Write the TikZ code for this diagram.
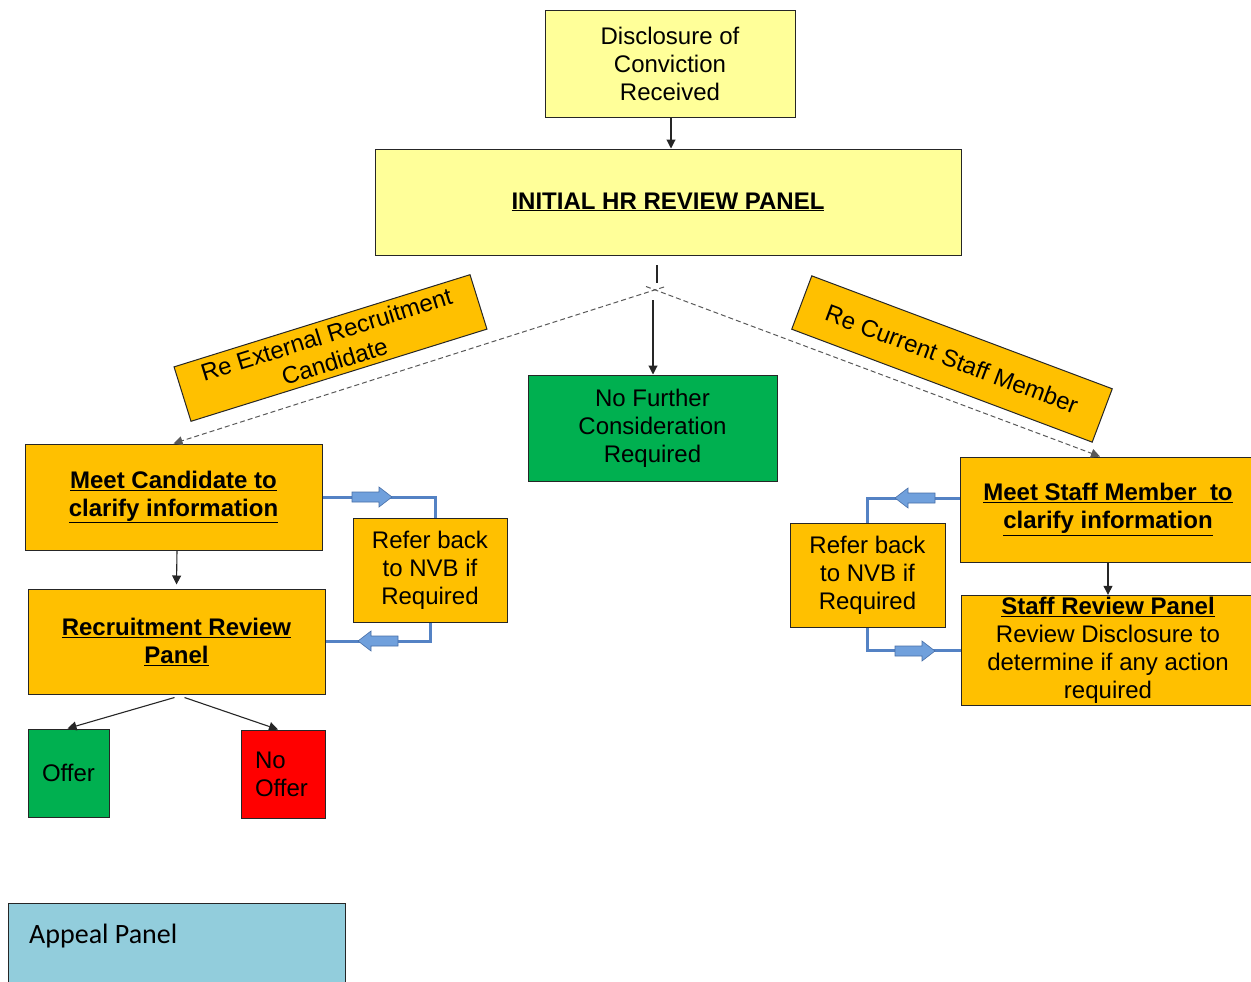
\documentclass[tikz,border=0pt]{standalone}
\usepackage{fontspec}
\setmainfont{Liberation Sans}
\newfontfamily\calib{Carlito}
\usetikzlibrary{arrows.meta}
\definecolor{yel}{RGB}{255,255,153}
\definecolor{org}{RGB}{255,192,0}
\definecolor{grn}{RGB}{0,176,80}
\definecolor{rd}{RGB}{255,0,0}
\definecolor{apb}{RGB}{146,205,220}
\definecolor{bline}{RGB}{84,130,196}
\definecolor{bfill}{RGB}{112,160,220}
\newcommand{\bu}[1]{\underline{\textbf{#1}}}
\begin{document}
\begin{tikzpicture}[x=1pt,y=-1pt,
  bx/.style={draw=black!85, line width=1pt, align=center, inner sep=2pt,
    font=\fontsize{24}{28}\selectfont},
  arr/.style={draw=black!85, line width=1.1pt, -{Triangle[length=9pt,width=9pt]}},
  dsh/.style={draw=black!65, line width=1pt, dash pattern=on 5pt off 3pt},
  bcon/.style={draw=bline, line width=3pt},
  fatarr/.pic={\draw[draw=bline!85!black, fill=bfill, line width=0.6pt]
    (0,0) -- (-13,-10) -- (-13,-5) -- (-40,-5) -- (-40,5) -- (-13,5) -- (-13,10) -- cycle;}
]
\useasboundingbox (0,0) rectangle (1251,982);

% top
\node[bx, fill=yel, minimum width=250, minimum height=106] (disc) at (670,64)
  {Disclosure of\\Conviction\\Received};
\node[bx, fill=yel, minimum width=586, minimum height=106] (hr) at (668,202)
  {\bu{INITIAL HR REVIEW PANEL}};
\node[bx, fill=grn, minimum width=249, minimum height=106] (nfc) at (652.5,428)
  {No Further\\Consideration\\Required};

% rotated labels
\node[bx, fill=org, minimum width=310, minimum height=57, rotate=17.3] (ext) at (330.5,348)
  {Re External Recruitment\\Candidate};
\node[bx, fill=org, minimum width=321, minimum height=57, rotate=-20.6] (cur) at (952,359)
  {Re Current Staff Member};

% left branch
\node[bx, fill=org, minimum width=297, minimum height=106] (mc) at (173.5,497)
  {\bu{Meet Candidate to}\\\bu{clarify information}};
\node[bx, fill=org, minimum width=297, minimum height=105] (rrp) at (176.5,641.5)
  {\bu{Recruitment Review}\\\bu{Panel}};
\node[bx, fill=org, minimum width=154, minimum height=104] (rl) at (430,570)
  {Refer back\\to NVB if\\Required};
\node[bx, fill=grn, minimum width=81, minimum height=88] (offer) at (68.5,773) {Offer};
\node[bx, fill=rd, minimum width=84, minimum height=88, text width=56, inner xsep=14, align=left] (nooffer) at (283,774)
  {No\\Offer};

% right branch
\node[bx, fill=org, minimum width=296, minimum height=105] (ms) at (1108,509.5)
  {\bu{Meet Staff Member\ \ to}\\\bu{clarify information}};
\node[bx, fill=org, minimum width=294, minimum height=107] (srp) at (1108,650.5)
  {\bu{Staff Review Panel}\\Review Disclosure to\\determine if any action\\required};
\node[bx, fill=org, minimum width=155, minimum height=104] (rr) at (867.5,575)
  {Refer back\\to NVB if\\Required};

% appeal
\node[draw=black!85, line width=1pt, fill=apb, minimum width=337, minimum height=100, anchor=north west,
  label={[anchor=north west, xshift=21pt, yshift=-21pt, inner sep=0pt, font=\calib\fontsize{28}{32}\selectfont]north west:Appeal Panel}]
  (ap) at (8,903) {};

% connectors
\draw[arr] ([xshift=1pt]disc.south) -- ([xshift=1pt]disc.south |- hr.north);
\coordinate (stubA) at (657,265);
\coordinate (stubB) at (657,283);
\draw[draw=black!85, line width=1.1pt] (stubA) -- (stubB);
\coordinate (jl) at (664,287);
\coordinate (jr) at (646,286.5);
\coordinate (jd) at (653,300);
\draw[dsh, -{Triangle[length=9pt,width=9pt]}] (jl) -- (mc.north);
\draw[dsh, -{Triangle[length=9pt,width=9pt]}] (jr) -- ([xshift=-8pt]ms.north);
\draw[arr] (jd) -- (jd |- nfc.north);

\draw[arr] ([xshift=3.5pt]mc.south) -- ([yshift=4pt]rrp.north);
\draw[arr] ([xshift=-2pt,yshift=-3pt]rrp.south) -- ([xshift=-1pt]offer.north);
\draw[arr] ([xshift=8pt,yshift=-3pt]rrp.south) -- ([xshift=-5pt]nooffer.north);
\draw[arr] (ms.south) -- (srp.north);

% blue loops
\coordinate (b1) at (435,497);
\coordinate (msw) at ([yshift=11.5pt]ms.west);
\draw[bcon] (mc.east) -- (b1) -- (b1 |- rl.north);
\draw[bcon] (rl.south) -- (rl.south |- rrp.east) -- (rrp.east);
\draw[bcon] (msw) -- (rr.north |- msw) -- (rr.north);
\draw[bcon] (rr.south) -- (rr.south |- srp.west) -- (srp.west);
\pic at (392,497) {fatarr};
\pic[rotate=180] at (358,641) {fatarr};
\pic[rotate=180] at (895,498) {fatarr};
\pic at (935,651) {fatarr};
\end{tikzpicture}
\end{document}
